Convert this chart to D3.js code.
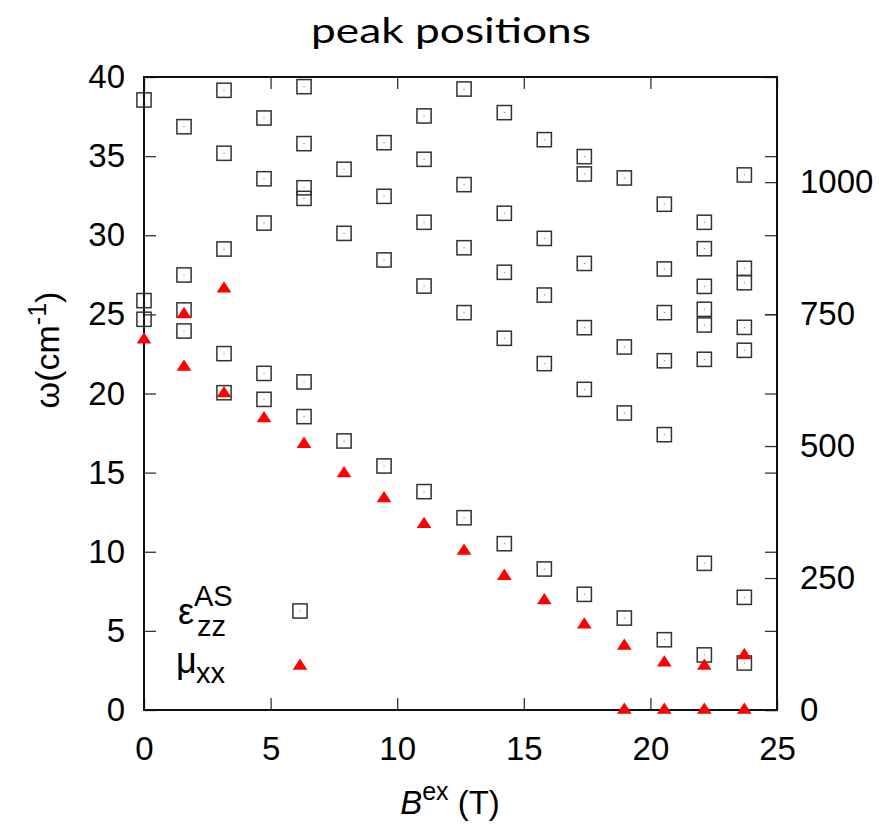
<!DOCTYPE html>
<html>
<head>
<meta charset="utf-8">
<script src="https://cdn.jsdelivr.net/npm/d3@7"></script>
<style>
  html, body { margin: 0; padding: 0; background: #fff; }
  svg { display: block; }
  .tick text { font-family: "Liberation Sans", Arial, sans-serif; }
</style>
</head>
<body>
<svg id="chart" width="884" height="826"></svg>
<script>
// ---------------- data ----------------
const titleText = "peak positions";
const fieldB = [0.0, 1.58, 3.16, 4.74, 6.32, 7.90, 9.48, 11.06, 12.64, 14.23, 15.81, 17.39, 18.97, 20.55, 22.13, 23.71];
// epsilon_zz^AS peak positions (cm^-1) for each field value
const epsPeaks = [
  [38.55, 25.87, 24.69],
  [36.86, 27.49, 25.28, 23.95],
  [39.16, 35.18, 29.13, 22.52, 20.05],
  [37.41, 33.57, 30.77, 21.27, 19.63],
  [39.39, 35.79, 33.00, 32.33, 20.73, 18.54],
  [34.17, 30.12, 17.00],
  [35.85, 32.46, 28.44, 15.42],
  [37.54, 34.80, 30.82, 26.79, 13.80],
  [39.24, 33.20, 29.21, 25.11, 12.15],
  [37.75, 31.39, 27.66, 23.49, 10.51],
  [36.04, 29.80, 26.22, 21.89, 8.91],
  [34.97, 33.87, 28.22, 24.16, 20.26, 7.31],
  [33.62, 22.94, 18.77, 5.81],
  [31.96, 27.87, 25.11, 22.07, 17.40, 4.44],
  [30.82, 29.15, 26.77, 25.32, 24.33, 22.16, 9.27, 3.48],
  [33.81, 27.91, 27.00, 24.18, 22.73, 7.12, 2.97]
];
// mu_xx peak positions (cm^-1)
const muPeaks = [
  [23.40],
  [25.00, 21.68],
  [26.62, 20.00],
  [18.42],
  [16.80],
  [14.94],
  [13.37],
  [11.74],
  [10.05],
  [8.46],
  [6.92],
  [5.39],
  [4.04, 0],
  [2.99, 0],
  [2.78, 0],
  [3.45, 0]
];
const xTicks = [0, 5, 10, 15, 20, 25];
const yTicks = [0, 5, 10, 15, 20, 25, 30, 35, 40];
const y2Ticks = [0, 250, 500, 750, 1000];
const cmToGHz = 29.9792;

// ---------------- layout ----------------
const svg = d3.select("#chart");
const L = 144, R = 777, T = 77, B = 710;
const x = d3.scaleLinear().domain([0, 25]).range([L, R]);
const y = d3.scaleLinear().domain([0, 40]).range([B, T]);
const y2 = d3.scaleLinear().domain([0, 40 * cmToGHz]).range([B, T]);

const FONT = '"Liberation Sans", Arial, sans-serif';
const tickFont = 33;

// flatten data
const epsPts = [];
fieldB.forEach((b, i) => epsPeaks[i].forEach(w => epsPts.push({b, w})));
const muPts = [];
fieldB.forEach((b, i) => muPeaks[i].forEach(w => muPts.push({b, w})));

// title
svg.append("text")
  .attr("x", 451).attr("y", 43)
  .attr("text-anchor", "middle")
  .attr("font-family", 'Lato, "Open Sans", sans-serif')
  .attr("font-size", 35)
  .attr("textLength", 280)
  .attr("lengthAdjust", "spacingAndGlyphs")
  .attr("fill", "#000")
  .text(titleText);

// axes
function styleAxis(g) {
  g.select(".domain").remove();
  g.selectAll(".tick line").attr("stroke", "#333").attr("stroke-width", 1.3);
  g.selectAll(".tick text").attr("font-size", tickFont).attr("fill", "#000");
}
svg.append("g").attr("transform", `translate(${L},0)`)
  .call(d3.axisLeft(y).tickValues(yTicks).tickSize(-12).tickPadding(19).tickFormat(d3.format("d")))
  .call(styleAxis);
svg.append("g").attr("transform", `translate(${R},0)`)
  .call(d3.axisRight(y).tickValues(yTicks).tickSize(-12).tickFormat(""))
  .call(styleAxis);
svg.append("g").attr("transform", `translate(${R},0)`)
  .call(d3.axisRight(y2).tickValues(y2Ticks).tickSize(-12).tickPadding(23).tickFormat(d3.format("d")))
  .call(styleAxis);
svg.append("g").attr("transform", `translate(0,${B})`)
  .call(d3.axisBottom(x).tickValues(xTicks).tickSize(-12).tickPadding(27).tickFormat(d3.format("d")))
  .call(styleAxis);
svg.append("g").attr("transform", `translate(0,${T})`)
  .call(d3.axisTop(x).tickValues(xTicks).tickSize(-12).tickFormat(""))
  .call(styleAxis);

// frame
svg.append("rect")
  .attr("x", L).attr("y", T).attr("width", R - L).attr("height", B - T)
  .attr("fill", "none").attr("stroke", "#111").attr("stroke-width", 2);

// markers
const SQ = 14.2;
function drawSquares(g, pts) {
  g.selectAll("rect.sq").data(pts).join("rect")
    .attr("class", "sq")
    .attr("x", d => x(d.b) - SQ / 2).attr("y", d => y(d.w) - SQ / 2)
    .attr("width", SQ).attr("height", SQ)
    .attr("fill", "none").attr("stroke", "#333").attr("stroke-width", 1.5);
  g.selectAll("rect.dot").data(pts).join("rect")
    .attr("class", "dot")
    .attr("x", d => x(d.b) - 0.5).attr("y", d => y(d.w) - 0.5)
    .attr("width", 1).attr("height", 1).attr("fill", "#666");
}
const TW = 14.7, TH = 11.3;
function triPath(cx, cy) {
  return `M${cx},${cy - 2 * TH / 3}L${cx + TW / 2},${cy + TH / 3}L${cx - TW / 2},${cy + TH / 3}Z`;
}
function drawTriangles(g, pts) {
  g.selectAll("path.tri").data(pts).join("path")
    .attr("class", "tri")
    .attr("d", d => triPath(x(d.b), y(d.w)))
    .attr("fill", "#ff0000");
}
drawSquares(svg.append("g"), epsPts);
drawTriangles(svg.append("g"), muPts);

// legend
const lg = svg.append("g").attr("font-family", FONT).attr("fill", "#000");
lg.append("text").attr("x", 178).attr("y", 624).attr("font-size", 36).text("ε");
lg.append("text").attr("x", 194).attr("y", 606).attr("font-size", 29).text("AS");
lg.append("text").attr("x", 197).attr("y", 636).attr("font-size", 29).text("zz");
lg.append("text").attr("x", 176).attr("y", 673).attr("font-size", 36).text("μ");
lg.append("text").attr("x", 196).attr("y", 683).attr("font-size", 29).text("xx");
lg.append("rect").attr("x", 300 - SQ / 2).attr("y", 611 - SQ / 2).attr("width", SQ).attr("height", SQ)
  .attr("fill", "none").attr("stroke", "#333").attr("stroke-width", 1.5);
lg.append("rect").attr("x", 299.5).attr("y", 610.5).attr("width", 1).attr("height", 1).attr("fill", "#666");
lg.append("path").attr("d", triPath(300, 666)).attr("fill", "#ff0000");

// y label
const yl = svg.append("text")
  .attr("transform", "translate(59,350) rotate(-90)")
  .attr("text-anchor", "middle")
  .attr("font-family", FONT).attr("font-size", 34).attr("fill", "#000");
yl.append("tspan").text("ω(cm");
yl.append("tspan").attr("dy", -13).attr("font-size", 25).text("-1");
yl.append("tspan").attr("dy", 13).text(")");

// x label
const xl = svg.append("text")
  .attr("x", 450).attr("y", 814)
  .attr("text-anchor", "middle")
  .attr("font-family", FONT).attr("font-size", 33).attr("fill", "#000");
xl.append("tspan").attr("font-style", "italic").text("B");
xl.append("tspan").attr("dy", -14).attr("font-size", 25).text("ex");
xl.append("tspan").attr("dy", 14).text(" (T)");
</script>
</body>
</html>
